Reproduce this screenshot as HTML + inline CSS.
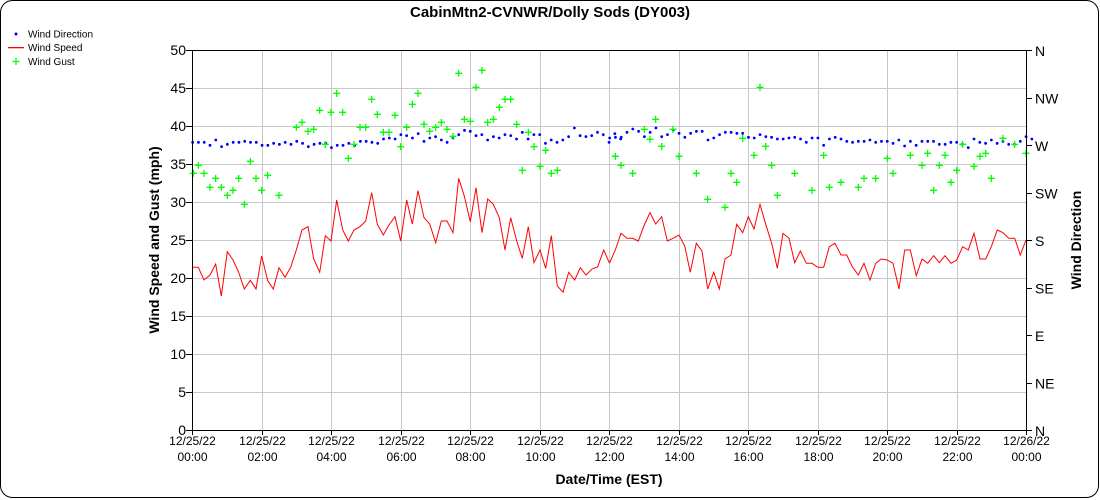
<!DOCTYPE html>
<html><head><meta charset="utf-8"><style>
html,body{margin:0;padding:0;background:#fff}
svg{display:block;font-family:"Liberation Sans",sans-serif}
</style></head><body>
<svg id="c" width="1100" height="500" xmlns="http://www.w3.org/2000/svg">
<rect x="0.5" y="0.5" width="1098" height="497" rx="12" fill="#fff" stroke="#000" stroke-width="1"/>
<text x="550" y="17" text-anchor="middle" font-size="15" font-weight="bold">CabinMtn2-CVNWR/Dolly Sods (DY003)</text>
<circle cx="16" cy="34" r="1.5" fill="#00f"/>
<text x="28" y="37.5" font-size="10">Wind Direction</text>
<rect x="8" y="47" width="16" height="1.3" fill="#ff0000"/>
<text x="28" y="51" font-size="10">Wind Speed</text>
<path d="M12.5 61.5h7M16 58v7" stroke="#0f0" stroke-width="1.3" fill="none"/>
<text x="28" y="65" font-size="10">Wind Gust</text>
<g id="grid"></g>
<g id="data"></g>
<g id="axes"></g>
<text transform="translate(159,240) rotate(-90)" text-anchor="middle" font-size="14" font-weight="bold">Wind Speed and Gust (mph)</text>
<text transform="translate(1081,240) rotate(-90)" text-anchor="middle" font-size="14" font-weight="bold">Wind Direction</text>
<text x="609" y="484" text-anchor="middle" font-size="14" font-weight="bold">Date/Time (EST)</text>
</svg>
<script>
var NS="http://www.w3.org/2000/svg";
function el(p,t,a,txt){var e=document.createElementNS(NS,t);for(var k in a)e.setAttribute(k,a[k]);if(txt!==undefined)e.textContent=txt;document.getElementById(p).appendChild(e);return e;}
var L=192,R=1026,T=50,B=430;
for(var i=1;i<10;i++){var y=T+i*38;el("grid","line",{x1:L,x2:R,y1:y+.5,y2:y+.5,stroke:"#c8c8c8"});}
var xs=(R-L)/12;
for(var i=1;i<12;i++){var x=Math.round(L+i*xs)+.5;el("grid","line",{x1:x,x2:x,y1:T,y2:B,stroke:"#c8c8c8"});}
el("axes","polyline",{points:(L+.5)+","+B+" "+(L+.5)+","+(T+.5)+" "+(R+.5)+","+(T+.5)+" "+(R+.5)+","+B,fill:"none",stroke:"#000"});
el("axes","line",{x1:L,x2:R+1,y1:B+.5,y2:B+.5,stroke:"#000"});
for(var i=0;i<=10;i++){var y=T+i*38;el("axes","line",{x1:L-6,x2:L,y1:y+.5,y2:y+.5,stroke:"#000"});
el("axes","text",{x:L-6,y:y+5,"text-anchor":"end","font-size":"14"},String(50-i*5));}
var dirs=["N","NW","W","SW","S","SE","E","NE","N"];
for(var i=0;i<=8;i++){var y=T+i*47.5;el("axes","line",{x1:R,x2:R+6,y1:Math.round(y)+.5,y2:Math.round(y)+.5,stroke:"#000"});
el("axes","text",{x:R+9,y:y+6,"font-size":"14"},dirs[i]);}
var labs=["00:00","02:00","04:00","06:00","08:00","10:00","12:00","14:00","16:00","18:00","20:00","22:00","00:00"];
for(var i=0;i<=12;i++){var x=Math.round(L+i*xs)+.5;el("axes","line",{x1:x,x2:x,y1:B,y2:B+5,stroke:"#000"});
el("axes","text",{x:x,y:B+15,"text-anchor":"middle","font-size":"12"},i==12?"12/26/22":"12/25/22");
el("axes","text",{x:x,y:B+31,"text-anchor":"middle","font-size":"12"},labs[i]);}
var s1=[[38,682],[55,682],[72,720],[90,705],[107,672],[124,768],[142,635],[159,660],[176,697],[193,747],[211,721],[228,747],[245,648],[263,722],[280,747],[297,683],[315,712],[332,682],[349,630],[366,570],[384,560],[401,657],[419,697],[436,587],[453,603],[470,480],[488,570],[505,603],[522,570],[540,560],[557,543],[575,458],[592,553],[610,585],[627,555],[645,530],[662,603],[680,480],[697,552],[714,452],[732,533],[749,552],[767,608],[784,543],[801,543],[819,578],[836,415],[853,468],[871,545],[888,443],[906,578],[923,477],[940,493],[958,533],[975,630],[992,533],[1010,603],[1027,655],[1045,560],[1062,668],[1080,630],[1097,685],[1114,587],[1132,738],[1149,757],[1166,697],[1184,720],[1201,683],[1218,705],[1236,687],[1253,680],[1271,630],[1288,668]];
var s2=[[29,668],[46,630],[63,580],[81,595],[98,595],[115,603],[133,555],[150,518],[167,552],[185,530],[202,603],[219,595],[237,585],[254,618],[271,697],[289,610],[306,633],[323,747],[341,697],[358,747],[375,657],[393,645],[410,553],[428,578],[445,530],[462,567],[480,493],[497,553],[515,610],[532,685],[549,580],[567,595],[584,668],[601,633],[619,670],[636,670],[653,682],[671,682],[688,620],[705,610],[723,645],[740,645],[757,680],[775,705],[792,670],[810,720],[827,670],[844,657],[862,660],[879,670],[897,747],[914,630],[931,630],[949,707],[966,657],[983,670],[1001,647],[1018,668],[1035,647],[1053,670],[1070,660],[1088,620],[1105,630],[1122,580],[1140,657],[1157,657],[1174,620],[1192,570],[1209,578],[1226,595],[1244,595],[1261,645],[1278,600]];
var pts=s1.map(function(p){return [180+p[0]/3,40+p[1]/3];}).concat(s2.map(function(p){return [600+p[0]/3,40+p[1]/3];}));
pts[0][0]=L+0.5;
el("data","polyline",{points:pts.map(function(p){return p[0].toFixed(1)+","+p[1].toFixed(1);}).join(" "),fill:"none",stroke:"#f00","stroke-width":"1"});
var d1=[307,307,307,316,300,320,313,307,307,304,307,307,316,316,310,313,307,313,304,310,320,313,310,310,323,316,316,310,316,304,304,307,310,297,294,297,284,287,294,281,304,294,290,300,307,294,284,271,274,287,284,300,290,294,284,287,297,277,297,284,284,310,300,307,300,290,264,287,290,287,277,284,307,281,297];
var d2=[294,292,292,277,267,274,290,277,264,290,284,270,280,292,280,274,274,300,294,284,277,277,280,280,292,294,284,290,292,297,297,294,292,297,307,294,294,316,297,292,297,304,307,304,304,300,307,304,304,310,300,318,304,316,304,304,304,313,313,307,307,313,323,297,307,310,300,310,304,313,313,304,290,297];
d1.forEach(function(y,i){el("data","circle",{cx:180+(38+i*17.35)/3,cy:40+y/3,r:1.4,fill:"#00f"});});
d2.forEach(function(y,i){el("data","circle",{cx:600+(29+i*17.35)/3,cy:40+y/3,r:1.4,fill:"#00f"});});
var g1=[[40,400],[55,376],[72,400],[90,442],[107,415],[124,442],[142,466],[159,451],[176,415],[193,493],[211,364],[228,415],[245,451],[263,406],[297,466],[349,262],[366,247],[384,274],[401,268],[419,211],[436,313],[453,217],[470,160],[488,217],[505,355],[522,313],[540,262],[557,262],[575,178],[592,223],[610,277],[627,277],[645,226],[662,320],[680,262],[697,193],[714,160],[732,253],[749,274],[767,262],[784,247],[801,268],[819,289],[836,100],[853,238],[871,244],[888,142],[906,91],[923,247],[940,238],[958,202],[975,178],[992,178],[1010,253],[1027,391],[1045,277],[1062,320],[1080,379],[1097,331],[1114,400],[1132,391]];
var g2=[[46,349],[63,376],[98,400],[133,268],[150,298],[167,238],[185,319],[219,268],[237,349],[289,400],[323,478],[375,502],[393,400],[410,427],[428,295],[462,346],[480,142],[497,319],[515,376],[532,466],[584,400],[636,451],[671,346],[688,442],[723,427],[775,442],[792,415],[827,415],[862,355],[879,400],[931,346],[966,376],[983,340],[1001,451],[1018,376],[1035,346],[1053,427],[1070,391],[1088,313],[1122,379],[1140,349],[1157,340],[1174,415],[1209,295],[1244,313],[1278,340]];
function plus(x,y){el("data","path",{d:"M"+(x-3.5)+" "+y+"h7M"+x+" "+(y-3.5)+"v7",stroke:"#0f0","stroke-width":"1.3",fill:"none"});}
g1.forEach(function(p){plus(180+p[0]/3,40+p[1]/3);});
g2.forEach(function(p){plus(600+p[0]/3,40+p[1]/3);});
</script>
</body></html>
